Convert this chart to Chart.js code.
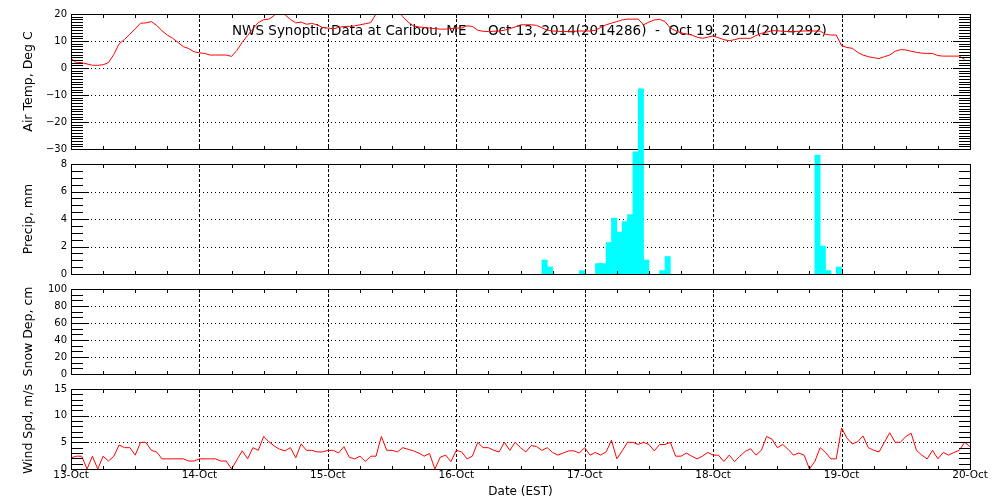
<!DOCTYPE html>
<html><head><meta charset="utf-8">
<script src="https://cdn.jsdelivr.net/npm/chart.js@4/dist/chart.umd.min.js"></script>
<style>
html,body{margin:0;padding:0;background:#fff;}
#wrap{position:relative;width:1000px;height:500px;overflow:hidden;background:#fff;}
#wrap canvas{position:absolute;left:0;top:0;}
</style></head><body>
<div id="wrap">
<canvas id="cTemp" width="1000" height="500"></canvas>
<canvas id="cPrecip" width="1000" height="500"></canvas>
<canvas id="cSnow" width="1000" height="500"></canvas>
<canvas id="cWind" width="1000" height="500"></canvas>
</div>
<script>
const titleText = "NWS Synoptic Data at Caribou, ME     Oct 13, 2014(2014286)  -  Oct 19, 2014(2014292)";
const xTitle = "Date (EST)";
const dayLabels = ["13-Oct","14-Oct","15-Oct","16-Oct","17-Oct","18-Oct","19-Oct","20-Oct"];
const panelTitles = ["Air Temp, Deg C","Precip, mm","Snow Dep, cm","Wind Spd, m/s"];

// hourly air temperature, deg C, from 13-Oct 00:00 EST
const airTemp = [
3.5,2.0,2.0,1.5,1.0,1.0,1.2,2.0,5.0,9.0,10.6,12.5,14.5,16.6,16.7,17.2,15.8,13.8,12.2,11.0,9.5,7.9,7.2,6.0,
5.6,5.4,4.8,4.8,4.8,4.8,4.3,6.5,9.5,12.0,14.5,16.8,17.9,18.1,19.5,21.0,19.7,18.0,16.7,17.0,16.2,16.5,16.0,15.0,
14.8,14.5,15.0,15.4,15.4,15.6,16.0,16.4,16.8,20.0,22.0,23.0,23.0,21.5,19.0,17.0,15.6,15.2,15.0,14.8,14.6,14.4,14.4,14.6,
14.8,14.8,15.6,15.4,14.0,13.6,13.5,13.6,13.7,14.0,14.6,15.2,16.0,16.0,16.0,15.8,14.9,14.0,13.7,13.6,13.5,13.5,13.6,13.7,
13.7,13.7,14.0,15.0,16.0,16.6,17.2,17.8,18.1,18.1,18.1,16.0,17.0,17.8,18.0,17.2,14.8,13.8,13.0,12.6,12.2,11.4,11.0,11.4,
11.9,11.2,10.5,10.1,10.5,11.0,11.0,11.0,12.0,12.8,13.3,13.8,13.8,13.6,13.5,13.5,13.6,13.7,13.7,13.7,13.7,12.5,12.2,12.2,
8.3,7.6,7.3,5.8,4.8,4.2,3.8,3.5,4.2,4.8,6.2,6.8,6.7,6.2,5.8,5.5,5.4,5.4,4.6,4.4,4.4,4.4,4.4,3.2
];

// hourly precipitation, mm (hour index of start of hour)
const precipHours  = [88,89,95,98,99,100,101,102,103,104,105,106,107,110,111,139,140,141,143];
const precipValues = [1.02,0.51,0.25,0.76,0.76,2.29,4.06,3.05,3.81,4.32,8.89,13.46,1.02,0.25,1.27,8.64,2.03,0.25,0.51];

// snow depth, cm (no reports)
const snowHours = [];
const snowValues = [];

// hourly wind speed, m/s
const windSpeed = [
2.1,2.4,2.4,0,2.4,0,2.4,1.5,2.4,4.5,4.0,4.0,2.6,5.0,5.0,3.5,3.2,1.9,1.9,1.9,1.9,1.9,1.5,1.5,
1.9,1.9,1.9,1.9,1.5,1.5,0,1.7,3.4,1.9,4.0,3.5,6.1,5.1,4.3,3.7,3.4,4.0,2.1,4.7,3.5,3.5,3.2,3.2,
3.5,3.5,3.0,4.2,2.2,1.9,2.4,1.4,2.4,2.4,6.1,3.5,3.5,3.2,4.0,3.7,3.4,3.0,2.4,2.9,0,2.2,2.6,1.4,
3.5,3.2,1.9,2.4,5.0,4.0,4.0,3.5,3.2,5.0,3.5,5.0,4.0,3.2,4.4,4.2,3.5,4.0,3.1,2.6,3.0,3.4,3.4,3.0,
4.0,2.6,3.1,2.6,3.2,5.4,1.9,3.4,5.0,5.0,4.6,5.0,4.6,3.4,4.6,4.6,5.0,2.4,2.4,3.0,2.4,1.9,2.4,3.1,
2.6,2.6,1.4,2.6,1.4,2.4,3.3,3.8,2.6,3.5,6.1,5.6,4.0,4.6,3.7,2.6,3.0,2.6,0,1.4,4.0,3.1,1.9,1.9,
7.7,5.8,4.7,5.1,6.2,4.0,3.5,3.2,5.0,6.8,5.0,5.0,6.1,6.7,3.5,2.6,1.9,3.5,1.9,3.1,2.6,3.1,3.5,5.0,4.2
];

// ---------------------------------------------------------------
Chart.defaults.font.family = "'DejaVu Sans', sans-serif";
Chart.defaults.color = '#000';
Chart.defaults.animation = false;

const HOURS = 168;

const idlAxes = {
  id: 'idlAxes',
  beforeDatasetsDraw(chart, args, o) {
    const {ctx, chartArea: a} = chart;
    const x = chart.scales.x, y = chart.scales.y;
    const L = Math.round(a.left), R = Math.round(a.right), T = Math.round(a.top), B = Math.round(a.bottom);
    ctx.save();
    ctx.strokeStyle = '#000'; ctx.lineWidth = 1;
    ctx.setLineDash([1, 3]);
    const nMaj = Math.round((y.max - y.min) / o.yMajor);
    for (let i = 1; i < nMaj; i++) {
      const py = Math.round(y.getPixelForValue(y.min + i * o.yMajor)) + 0.5;
      ctx.beginPath(); ctx.moveTo(L, py); ctx.lineTo(R, py); ctx.stroke();
    }
    ctx.setLineDash([3, 2]);
    const nDay = Math.round((x.max - x.min) / 24);
    for (let i = 1; i < nDay; i++) {
      const px = Math.round(x.getPixelForValue(x.min + i * 24)) + 0.5;
      ctx.beginPath(); ctx.moveTo(px, T); ctx.lineTo(px, B); ctx.stroke();
    }
    ctx.setLineDash([]);
    if (o.title) {
      ctx.font = '13.5px "DejaVu Sans"';
      ctx.fillStyle = '#000';
      ctx.textAlign = 'left';
      ctx.textBaseline = 'middle';
      ctx.fillText(o.title, 232, 31);
    }
    ctx.restore();
  },
  afterDatasetsDraw(chart, args, o) {
    const {ctx, chartArea: a} = chart;
    const x = chart.scales.x, y = chart.scales.y;
    const L = Math.round(a.left), R = Math.round(a.right), T = Math.round(a.top), B = Math.round(a.bottom);
    ctx.save();
    ctx.strokeStyle = '#000'; ctx.lineWidth = 1; ctx.setLineDash([]);
    ctx.strokeRect(L + 0.5, T + 0.5, R - L, B - T);
    const step = o.yMajor / o.yMinorPerMajor;
    const nMin = Math.round((y.max - y.min) / step);
    ctx.beginPath();
    for (let i = 0; i <= nMin; i++) {
      const py = Math.round(y.getPixelForValue(y.min + i * step)) + 0.5;
      const len = (i % o.yMinorPerMajor === 0) ? 18 : 12;
      ctx.moveTo(L, py); ctx.lineTo(L + len, py);
      ctx.moveTo(R + 1, py); ctx.lineTo(R + 1 - len, py);
    }
    const nX = Math.round((x.max - x.min) / 6);
    for (let i = 1; i < nX; i++) {
      const px = Math.round(x.getPixelForValue(x.min + i * 6)) + 0.5;
      ctx.moveTo(px, T); ctx.lineTo(px, T + 4);
      ctx.moveTo(px, B + 1); ctx.lineTo(px, B + 1 - 4);
    }
    ctx.stroke();
    ctx.restore();
  }
};

function yScale(min, max, step, title) {
  return {
    type: 'linear', min: min, max: max,
    ticks: {stepSize: step, autoSkip: false, padding: 4, font: {size: 10}, color: '#000',
            callback: v => String(v).replace('-', '\u2212')},
    grid: {display: false, drawTicks: false},
    border: {display: false},
    title: {display: true, text: title, color: '#000', font: {size: 12.5}, padding: {top: 10, bottom: 0}},
    afterFit: s => { s.width = 60; }
  };
}
function hiddenX() {
  return {type: 'linear', min: 0, max: HOURS, display: false, offset: false};
}
function baseOptions(top, bottom, yCfg, xCfg, pluginOpts) {
  return {
    responsive: false, maintainAspectRatio: false, devicePixelRatio: 1, animation: false,
    layout: {padding: {left: 11, right: 30, top: top, bottom: bottom}},
    scales: {x: xCfg, y: yCfg},
    plugins: {legend: {display: false}, tooltip: {enabled: false}, idlAxes: pluginOpts},
    events: []
  };
}

// Air temperature
new Chart(document.getElementById('cTemp'), {
  type: 'line',
  data: {datasets: [{
    data: airTemp.map((v, i) => ({x: i, y: v})),
    borderColor: '#ff0000', borderWidth: 1, pointRadius: 0, tension: 0, fill: false
  }]},
  options: baseOptions(14, 500 - 149, yScale(-30, 20, 10, panelTitles[0]), hiddenX(),
    {yMajor: 10, yMinorPerMajor: 10, title: titleText}),
  plugins: [idlAxes]
});

// Precipitation
new Chart(document.getElementById('cPrecip'), {
  type: 'bar',
  data: {datasets: [{
    data: precipHours.map((h, i) => ({x: h + 0.5, y: precipValues[i]})),
    backgroundColor: '#00ffff', borderWidth: 0,
    barPercentage: 1.0, categoryPercentage: 1.0, clip: false
  }]},
  options: baseOptions(164, 500 - 274, yScale(0, 8, 2, panelTitles[1]), hiddenX(),
    {yMajor: 2, yMinorPerMajor: 4}),
  plugins: [idlAxes]
});

// Snow depth
new Chart(document.getElementById('cSnow'), {
  type: 'line',
  data: {datasets: [{
    data: snowHours.map((h, i) => ({x: h, y: snowValues[i]})),
    borderColor: '#ff0000', borderWidth: 1, pointRadius: 0
  }]},
  options: baseOptions(289, 500 - 374, yScale(0, 100, 20, panelTitles[2]), hiddenX(),
    {yMajor: 20, yMinorPerMajor: 3}),
  plugins: [idlAxes]
});

// Wind speed
new Chart(document.getElementById('cWind'), {
  type: 'line',
  data: {datasets: [{
    data: windSpeed.map((v, i) => ({x: i, y: v})),
    borderColor: '#ff0000', borderWidth: 1, pointRadius: 0, tension: 0, fill: false
  }]},
  options: baseOptions(389, 0, yScale(0, 15, 5, panelTitles[3]), {
    type: 'linear', min: 0, max: HOURS, offset: false,
    ticks: {stepSize: 24, autoSkip: false, maxRotation: 0, minRotation: 0, padding: 0,
            font: {size: 10.5}, color: '#000', callback: v => dayLabels[Math.round(v / 24)]},
    grid: {display: false, drawTicks: false},
    border: {display: false},
    title: {display: true, text: xTitle, color: '#000', font: {size: 12}, padding: {top: 0, bottom: 1}},
    afterFit: s => { s.height = 31; }
  }, {yMajor: 5, yMinorPerMajor: 5}),
  plugins: [idlAxes]
});
</script>
</body></html>
